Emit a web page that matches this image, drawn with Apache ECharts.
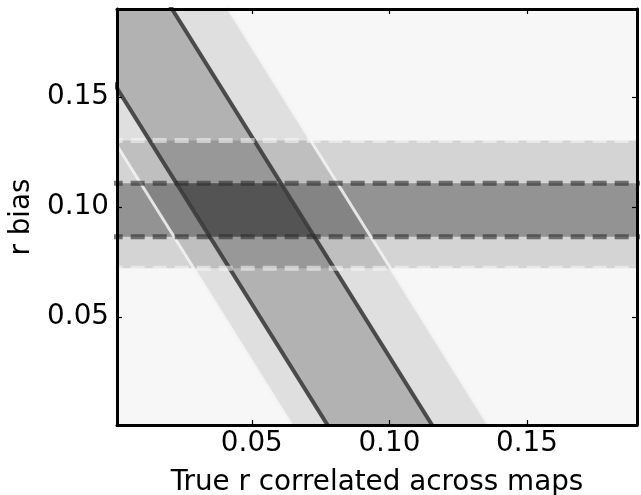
<!DOCTYPE html>
<html>
<head>
<meta charset="utf-8">
<script src="https://cdn.jsdelivr.net/npm/echarts@6/dist/echarts.min.js"></script>
<style>
html,body{margin:0;padding:0;background:#ffffff;}
#chart{width:641px;height:495px;}
</style>
</head>
<body>
<div id="chart"></div>
<script>
// ---- data ----
const xRange = [0.001, 0.19];
const yRange = [0.001, 0.19];
const xTicks = [0.05, 0.10, 0.15];
const yTicks = [0.05, 0.10, 0.15];
const xName = 'True r correlated across maps';
const yName = 'r bias';
// diagonal constraint: r_bias = c + slope * r_true
const diagSlope = -2;
const diag1Sigma = [0.156, 0.232];   // intercepts of the 1-sigma edges
const diag2Sigma = [0.130, 0.273];   // intercepts of the 2-sigma edges
// horizontal constraint on r_bias
const horiz1Sigma = [0.0865, 0.1108];
const horiz2Sigma = [0.0722, 0.1302];

// ---- helpers ----
const XA = -0.05, XB = 0.25; // extended span, clipped by the grid
const FONT = 'DejaVu Sans';

function diagBand(band, fill, z) {
  return {
    type: 'custom', coordinateSystem: 'cartesian2d', clip: true, z: z, silent: true,
    data: [band],
    renderItem: function (params, api) {
      const lo = api.value(0), hi = api.value(1);
      const pts = [[XA, lo + diagSlope * XA], [XB, lo + diagSlope * XB],
                   [XB, hi + diagSlope * XB], [XA, hi + diagSlope * XA]].map(p => api.coord(p));
      return { type: 'polygon', shape: { points: pts }, style: { fill: fill } };
    }
  };
}
function horizBand(band, fill, z) {
  return {
    type: 'custom', coordinateSystem: 'cartesian2d', clip: true, z: z, silent: true,
    data: [band],
    renderItem: function (params, api) {
      const lo = api.value(0), hi = api.value(1);
      const pts = [[XA, lo], [XB, lo], [XB, hi], [XA, hi]].map(p => api.coord(p));
      return { type: 'polygon', shape: { points: pts }, style: { fill: fill } };
    }
  };
}
function crossRegion(dBand, hBand, fill, z) {
  return {
    type: 'custom', coordinateSystem: 'cartesian2d', clip: true, z: z, silent: true,
    data: [[dBand[0], dBand[1], hBand[0], hBand[1]]],
    renderItem: function (params, api) {
      const d0 = api.value(0), d1 = api.value(1), h0 = api.value(2), h1 = api.value(3);
      const xAt = (y, c) => (y - c) / diagSlope;
      const pts = [[xAt(h0, d0), h0], [xAt(h0, d1), h0], [xAt(h1, d1), h1], [xAt(h1, d0), h1]].map(p => api.coord(p));
      return { type: 'polygon', shape: { points: pts }, style: { fill: fill } };
    }
  };
}
function diagLine(c, style, z) {
  return {
    type: 'line', z: z, silent: true, symbol: 'none', clip: true, animation: false,
    data: [[XA, c + diagSlope * XA], [XB, c + diagSlope * XB]],
    lineStyle: style
  };
}
function horizLine(y, style, z) {
  return {
    type: 'line', z: z, silent: true, symbol: 'none', clip: true, animation: false,
    data: [[XA, y], [XB, y]],
    lineStyle: style
  };
}

const darkDiag = { color: 'rgba(60,60,60,0.9)', width: 4 };
const lightDiag = { color: 'rgba(245,245,245,0.85)', width: 3 };
const darkDash = { color: 'rgba(45,45,45,0.62)', width: 5, type: [14, 8] };
const lightDash = { color: 'rgba(248,248,248,0.55)', width: 5, type: [14, 8] };

const series = [
  diagBand(diag2Sigma, 'rgba(0,0,0,0.093)', 1),
  diagBand(diag1Sigma, 'rgba(0,0,0,0.20)', 2),
  horizBand(horiz2Sigma, 'rgba(0,0,0,0.142)', 3),
  horizBand(horiz1Sigma, 'rgba(0,0,0,0.307)', 4),
  crossRegion(diag1Sigma, horiz1Sigma, 'rgba(0,0,0,0.2)', 5),
  diagLine(diag2Sigma[0], lightDiag, 6),
  diagLine(diag2Sigma[1], lightDiag, 6),
  diagLine(diag1Sigma[0], darkDiag, 7),
  diagLine(diag1Sigma[1], darkDiag, 7),
  horizLine(horiz2Sigma[0], lightDash, 8),
  horizLine(horiz2Sigma[1], lightDash, 8),
  horizLine(horiz1Sigma[0], darkDash, 9),
  horizLine(horiz1Sigma[1], darkDash, 9)
];

function mkAxis(pos, isX, ticks, main) {
  const ax = {
    type: 'value', position: pos, min: isX ? xRange[0] : yRange[0], max: isX ? xRange[1] : yRange[1],
    splitLine: { show: false },
    axisLine: { show: true, onZero: false, lineStyle: { color: '#000', width: 3 } },
    axisTick: { show: true, inside: true, length: 5, customValues: ticks, lineStyle: { color: '#000', width: 1.2 } },
    axisLabel: main ? {
      show: true, customValues: ticks, formatter: v => Number(v).toFixed(2),
      fontFamily: FONT, fontSize: 27.8, color: '#000', margin: isX ? 5 : 8
    } : { show: false },
    z: 20
  };
  if (main) {
    ax.name = isX ? xName : yName;
    ax.nameLocation = 'middle';
    ax.nameGap = isX ? 44 : 76;
    ax.nameTextStyle = { fontFamily: FONT, fontSize: 27.8, color: '#000' };
  }
  return ax;
}

const chart = echarts.init(document.getElementById('chart'), null, { renderer: 'canvas' });
chart.setOption({
  animation: false,
  backgroundColor: '#ffffff',
  grid: { left: 117, right: 4, top: 9, bottom: 70, show: true, backgroundColor: '#f7f7f7', borderWidth: 0,
          containLabel: false, outerBoundsMode: 'none' },
  xAxis: [mkAxis('bottom', true, xTicks, true), mkAxis('top', true, xTicks, false)],
  yAxis: [mkAxis('left', false, yTicks, true), mkAxis('right', false, yTicks, false)],
  series: series
});
</script>
</body>
</html>
